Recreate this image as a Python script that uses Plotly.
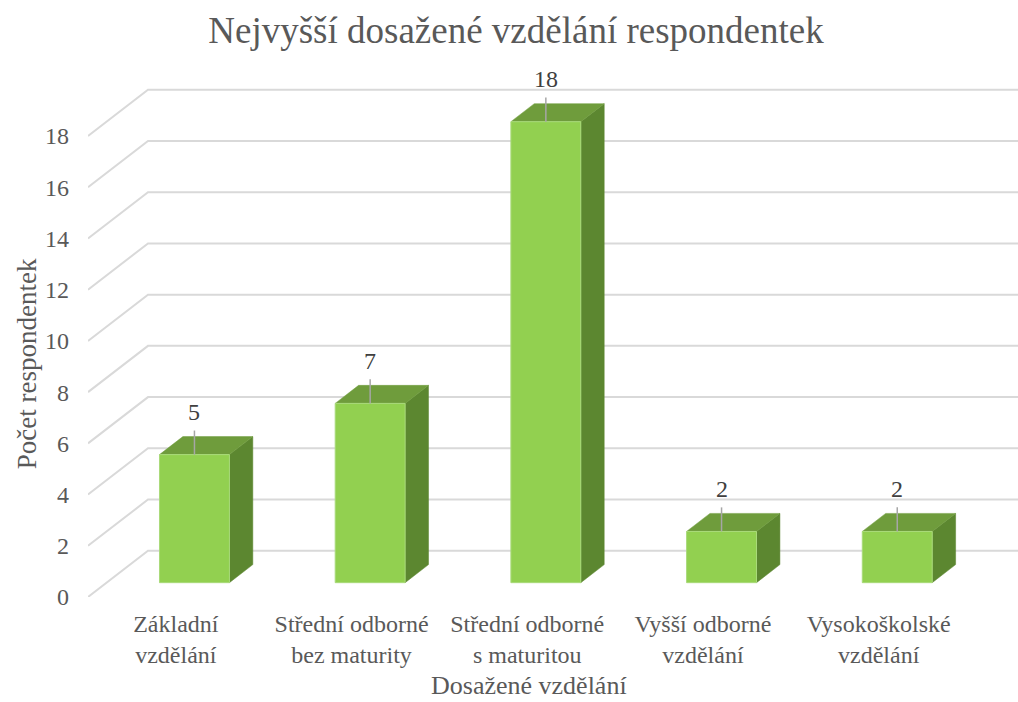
import plotly.graph_objects as go

categories = ["Základní<br>vzdělání", "Střední odborné<br>bez maturity", "Střední odborné<br>s maturitou",
              "Vyšší odborné<br>vzdělání", "Vysokoškolské<br>vzdělání"]
values = [5, 7, 18, 2, 2]
y_ticks = [0, 2, 4, 6, 8, 10, 12, 14, 16, 18]

title = "Nejvyšší dosažené vzdělání respondentek"
x_title = "Dosažené vzdělání"
y_title = "Počet respondentek"

# pseudo-3D geometry (data units)
DX = 0.3415   # depth offset along x (categories)
DY = 1.806    # depth offset along y (value units)
D0, D1 = 0.31, 0.70  # bar front/back depth fractions
BW = 0.398    # bar width (categories)

FRONT = "#92D050"
TOP = "#6F9C3C"
SIDE = "#5C8730"
GRID = "#D9D9D9"
TXT = "#595959"
FONT = "Liberation Serif"

W, H = 1018, 702
ml, mr, mb = 88, 0, 105
ymax = 20.5
px_per_unit = 25.63
plot_h = ymax * px_per_unit
mt = H - mb - plot_h
px_per_cat = 175.7
xmin = -0.5
xmax = xmin + (W - ml - mr) / px_per_cat

fig = go.Figure()
fig.add_trace(go.Scatter(x=[0], y=[0], mode="markers", marker=dict(opacity=0), hoverinfo="skip", showlegend=False))

shapes = []
ncat = len(categories)
back_right = ncat - 0.5 + DX
for t in y_ticks:
    path = f"M {xmin},{t} L {xmin + DX},{t + DY} L {back_right},{t + DY}"
    shapes.append(dict(type="path", path=path, xref="x", yref="y",
                       line=dict(color=GRID, width=2), layer="below"))

annotations = []
for i, v in enumerate(values):
    x0 = i - BW / 2 + D0 * DX
    x1 = i + BW / 2 + D0 * DX
    yb = D0 * DY
    yt = v + D0 * DY
    ddx = (D1 - D0) * DX
    ddy = (D1 - D0) * DY
    # side face
    shapes.append(dict(type="path", xref="x", yref="y",
                       path=f"M {x1},{yb} L {x1},{yt} L {x1 + ddx},{yt + ddy} L {x1 + ddx},{yb + ddy} Z",
                       fillcolor=SIDE, line=dict(width=0.5, color=SIDE)))
    # top face
    shapes.append(dict(type="path", xref="x", yref="y",
                       path=f"M {x0},{yt} L {x1},{yt} L {x1 + ddx},{yt + ddy} L {x0 + ddx},{yt + ddy} Z",
                       fillcolor=TOP, line=dict(width=0.5, color=TOP)))
    # front face
    shapes.append(dict(type="path", xref="x", yref="y",
                       path=f"M {x0},{yb} L {x1},{yb} L {x1},{yt} L {x0},{yt} Z",
                       fillcolor=FRONT, line=dict(width=1, color="#A9DA7A")))
    # leader line
    xc = i + D0 * DX
    shapes.append(dict(type="line", xref="x", yref="y", x0=xc, x1=xc, y0=yt, y1=yt + 0.94,
                       line=dict(color="#A6A6A6", width=1.5)))
    annotations.append(dict(x=xc, y=yt + 1.66, xref="x", yref="y", text=str(v), showarrow=False,
                            xanchor="center", yanchor="middle",
                            font=dict(family=FONT, size=24, color="#404040")))

annotations.append(dict(x=(27 - ml) / (W - ml - mr), y=(H - mb - 364) / plot_h, xref="paper", yref="paper",
                        text=y_title, textangle=-90, showarrow=False, xanchor="center", yanchor="middle",
                        font=dict(family=FONT, size=27, color=TXT)))
annotations.append(dict(x=(529 - ml) / (W - ml - mr), y=(H - mb - 686) / plot_h, xref="paper", yref="paper",
                        text=x_title, showarrow=False, xanchor="center", yanchor="middle",
                        font=dict(family=FONT, size=26, color=TXT)))

fig.update_layout(
    width=W, height=H,
    margin=dict(l=ml, r=mr, t=mt, b=mb, autoexpand=False),
    paper_bgcolor="white", plot_bgcolor="white",
    title=dict(text=title, x=516 / W, xref="container", xanchor="center",
               y=1 - 30 / H, yref="container", yanchor="middle",
               font=dict(family=FONT, size=37, color=TXT)),
    xaxis=dict(range=[xmin, xmax], tickmode="array", tickvals=list(range(ncat)), ticktext=categories,
               showgrid=False, zeroline=False, showline=False, ticks="", automargin=False,
               ticklabelstandoff=10,
               tickfont=dict(family=FONT, size=24, color=TXT), fixedrange=True),
    yaxis=dict(range=[0, ymax], tickmode="array", tickvals=y_ticks, showgrid=False, zeroline=False,
               showline=False, ticks="", automargin=False, ticklabelstandoff=18,
               tickfont=dict(family=FONT, size=24, color=TXT), fixedrange=True),
    shapes=shapes, annotations=annotations, showlegend=False,
)

fig.write_html("out.html", config={"displayModeBar": False},
               post_script="document.body.style.margin='0';document.body.style.overflow='hidden';")
